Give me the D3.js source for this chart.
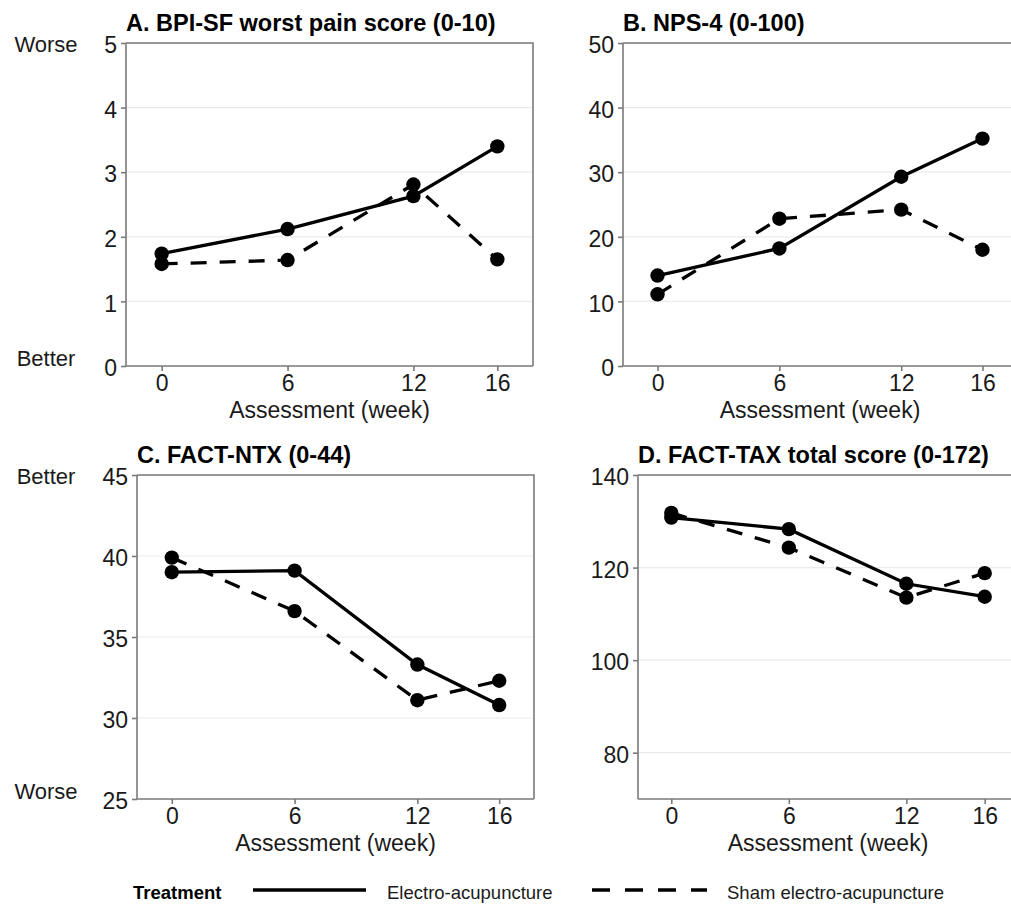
<!DOCTYPE html>
<html>
<head>
<meta charset="utf-8">
<script src="https://cdn.jsdelivr.net/npm/d3@7"></script>
<style>
  body { margin: 0; background: #fff; }
  svg { display: block; font-family: "Liberation Sans", Arial, sans-serif; }
</style>
</head>
<body>
<script>
// week of assessment
const weeks = [0, 6, 12, 16];

// A. BPI-SF worst pain
const bpiElectro = [1.74, 2.12, 2.63, 3.40];
const bpiSham = [1.58, 1.64, 2.81, 1.65];
// B. NPS-4
const npsElectro = [14.0, 18.2, 29.3, 35.2];
const npsSham = [11.1, 22.8, 24.2, 18.0];
// C. FACT-NTX
const ntxElectro = [39.0, 39.1, 33.3, 30.8];
const ntxSham = [39.9, 36.6, 31.1, 32.3];
// D. FACT-TAX total
const taxElectro = [130.8, 128.3, 116.5, 113.7];
const taxSham = [131.8, 124.3, 113.5, 118.8];

const panelTitles = ["A. BPI-SF worst pain score (0-10)", "B. NPS-4 (0-100)",
                     "C. FACT-NTX (0-44)", "D. FACT-TAX total score (0-172)"];
const yTicksA = [0, 1, 2, 3, 4, 5];
const yTicksB = [0, 10, 20, 30, 40, 50];
const yTicksC = [25, 30, 35, 40, 45];
const yTicksD = [80, 100, 120, 140];
const treatments = ["Electro-acupuncture", "Sham electro-acupuncture"];

const width = 1011, height = 904;
const svg = d3.select("body").append("svg")
  .attr("width", width)
  .attr("height", height);

// panel boxes (pixels) + y domains
const panels = [
  { title: panelTitles[0], electro: bpiElectro, sham: bpiSham, yDomain: [0, 5], ticks: yTicksA,
    left: 126, right: 533, top: 43, bottom: 366, topLabel: "Worse", bottomLabel: "Better" },
  { title: panelTitles[1], electro: npsElectro, sham: npsSham, yDomain: [0, 50], ticks: yTicksB,
    left: 623, right: 1017, top: 43, bottom: 366 },
  { title: panelTitles[2], electro: ntxElectro, sham: ntxSham, yDomain: [25, 45], ticks: yTicksC,
    left: 137, right: 534, top: 475, bottom: 799, topLabel: "Better", bottomLabel: "Worse" },
  { title: panelTitles[3], electro: taxElectro, sham: taxSham, yDomain: [70, 140], ticks: yTicksD,
    left: 638, right: 1018, top: 475, bottom: 799 }
];

const axisGrey = "#7a7a7a";
const textCol = "#1a1a1a";
const dashPattern = "16,13";

panels.forEach(p => {
  const x = d3.scaleLinear().domain([-1.7, 17.7]).range([p.left, p.right]);
  const y = d3.scaleLinear().domain(p.yDomain).range([p.bottom, p.top]);
  const g = svg.append("g");

  // gridlines
  g.selectAll(".grid")
    .data(p.ticks)
    .join("line")
    .attr("x1", p.left).attr("x2", p.right)
    .attr("y1", d => y(d)).attr("y2", d => y(d))
    .attr("stroke", "#ebebeb")
    .attr("stroke-width", 1.2);

  // border top/right
  g.append("path")
    .attr("d", `M${p.left},${p.top}H${p.right}V${p.bottom}`)
    .attr("fill", "none")
    .attr("stroke", axisGrey)
    .attr("stroke-width", 1.6);

  // axes
  const xAxis = g.append("g")
    .attr("transform", `translate(0,${p.bottom})`)
    .call(d3.axisBottom(x).tickValues(weeks).tickFormat(d3.format("d")).tickSize(5).tickPadding(4));
  const yAxis = g.append("g")
    .attr("transform", `translate(${p.left},0)`)
    .call(d3.axisLeft(y).tickValues(p.ticks).tickFormat(d3.format("d")).tickSize(5).tickPadding(4));

  [xAxis, yAxis].forEach(a => {
    a.select(".domain").remove();
    a.selectAll(".tick line").attr("stroke", axisGrey).attr("stroke-width", 1.6);
    a.selectAll(".tick text")
      .attr("fill", textCol)
      .style("font-size", "23px")
      .style("font-family", "'Liberation Sans', Arial, sans-serif");
  });
  yAxis.selectAll(".tick text").attr("dy", "0.42em");

  g.append("line")
    .attr("x1", p.left).attr("x2", p.right)
    .attr("y1", p.bottom).attr("y2", p.bottom)
    .attr("stroke", axisGrey).attr("stroke-width", 1.6);
  g.append("line")
    .attr("x1", p.left).attr("x2", p.left)
    .attr("y1", p.top).attr("y2", p.bottom)
    .attr("stroke", axisGrey).attr("stroke-width", 1.6);

  // title
  g.append("text")
    .attr("x", p.left)
    .attr("y", p.top - 12.5)
    .attr("font-size", 23.5)
    .attr("font-weight", "bold")
    .attr("fill", "#000")
    .text(p.title);

  // x axis title
  g.append("text")
    .attr("x", (p.left + p.right) / 2)
    .attr("y", p.bottom + 52)
    .attr("text-anchor", "middle")
    .attr("font-size", 23)
    .attr("fill", textCol)
    .text("Assessment (week)");

  // better / worse labels
  if (p.topLabel) {
    g.append("text")
      .attr("x", 46).attr("y", p.top + 9)
      .attr("text-anchor", "middle")
      .attr("font-size", 22)
      .attr("fill", textCol)
      .text(p.topLabel);
    g.append("text")
      .attr("x", 46).attr("y", p.bottom)
      .attr("text-anchor", "middle")
      .attr("font-size", 22)
      .attr("fill", textCol)
      .text(p.bottomLabel);
  }

  // lines + points
  const line = d3.line()
    .x((d, i) => x(weeks[i]))
    .y(d => y(d));

  const series = [
    { values: p.electro, dash: null },
    { values: p.sham, dash: dashPattern }
  ];

  series.forEach(s => {
    g.append("path")
      .datum(s.values)
      .attr("d", line)
      .attr("fill", "none")
      .attr("stroke", "#000")
      .attr("stroke-width", 3.3)
      .attr("stroke-dasharray", s.dash);
  });
  series.forEach(s => {
    g.selectAll(null)
      .data(s.values)
      .join("circle")
      .attr("cx", (d, i) => x(weeks[i]))
      .attr("cy", d => y(d))
      .attr("r", 7.2)
      .attr("fill", "#000");
  });
});

// legend
const legend = svg.append("g").attr("transform", "translate(0,890)");
legend.append("text")
  .attr("x", 133).attr("y", 9)
  .attr("font-size", 18.5)
  .attr("font-weight", "bold")
  .text("Treatment");

const legendItems = [
  { label: treatments[0], x1: 253, x2: 366, tx: 387, dash: null },
  { label: treatments[1], x1: 592, x2: 707, tx: 727, dash: "18,15" }
];
legendItems.forEach(it => {
  legend.append("line")
    .attr("x1", it.x1).attr("x2", it.x2)
    .attr("y1", 0).attr("y2", 0)
    .attr("stroke", "#000")
    .attr("stroke-width", 3.5)
    .attr("stroke-dasharray", it.dash);
  legend.append("text")
    .attr("x", it.tx).attr("y", 9)
    .attr("font-size", 18.5)
    .attr("fill", textCol)
    .text(it.label);
});
</script>
</body>
</html>
